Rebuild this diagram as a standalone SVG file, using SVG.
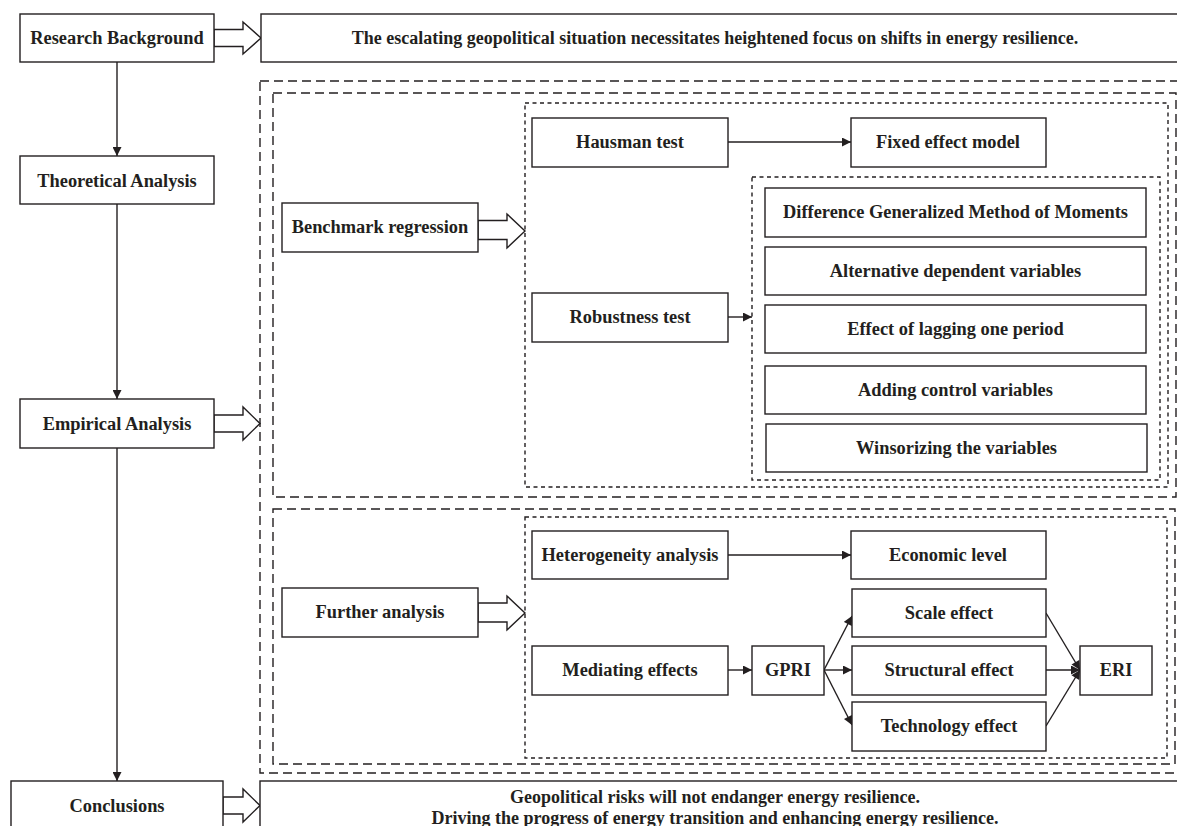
<svg xmlns="http://www.w3.org/2000/svg" width="1177" height="826" viewBox="0 0 1177 826">
<style>
.b{fill:#fff;stroke:#231f20;stroke-width:1.4}
.t{font-family:"Liberation Serif","Times New Roman",serif;font-weight:bold;font-size:18.4px;fill:#231f20;text-anchor:middle}
.w{font-size:18px}
.d1{fill:none;stroke:#231f20;stroke-width:1.4;stroke-dasharray:9 5}
.d2{fill:none;stroke:#231f20;stroke-width:1.4;stroke-dasharray:4 3.5}
.c{fill:none;stroke:#231f20;stroke-width:1.4}
.h{fill:#fff;stroke:#231f20;stroke-width:1.4;stroke-linejoin:miter}
</style>
<defs>
<marker id="ar" viewBox="0 0 10 10" refX="10" refY="5" markerWidth="10" markerHeight="9" markerUnits="userSpaceOnUse" orient="auto">
<path d="M0,0 L10,5 L0,10 z" fill="#231f20"/>
</marker>
</defs>
<rect width="1177" height="826" fill="#fff"/>

<g id="frames">
<rect class="d1" x="260" y="81" width="930" height="692"/>
<rect class="d1" x="273" y="93" width="903" height="404"/>
<rect class="d2" x="525" y="103" width="643" height="384"/>
<rect class="d2" x="752" y="177" width="408" height="303"/>
<rect class="d1" x="273" y="509" width="902" height="255"/>
<rect class="d2" x="525" y="517" width="642" height="241"/>
</g>

<g id="connectors">
<line class="c" x1="117" y1="62" x2="117" y2="156" marker-end="url(#ar)"/>
<line class="c" x1="117" y1="204" x2="117" y2="399" marker-end="url(#ar)"/>
<line class="c" x1="117" y1="448" x2="117" y2="781" marker-end="url(#ar)"/>
<line class="c" x1="728" y1="142" x2="851" y2="142" marker-end="url(#ar)"/>
<line class="c" x1="728" y1="317" x2="752" y2="317" marker-end="url(#ar)"/>
<line class="c" x1="728" y1="555" x2="851" y2="555" marker-end="url(#ar)"/>
<line class="c" x1="728" y1="670" x2="752" y2="670" marker-end="url(#ar)"/>
<line class="c" x1="824" y1="670" x2="852" y2="616" marker-end="url(#ar)"/>
<line class="c" x1="824" y1="670" x2="852" y2="670" marker-end="url(#ar)"/>
<line class="c" x1="824" y1="670" x2="852" y2="725" marker-end="url(#ar)"/>
<line class="c" x1="1046" y1="613" x2="1080" y2="670" marker-end="url(#ar)"/>
<line class="c" x1="1046" y1="670" x2="1080" y2="670" marker-end="url(#ar)"/>
<line class="c" x1="1046" y1="726" x2="1080" y2="670" marker-end="url(#ar)"/>
<polygon class="h" points="214,29.5 243,29.5 243,22 261,38 243,54 243,46.5 214,46.5"/>
<polygon class="h" points="214,415 243,415 243,407 260,423.5 243,440 243,432 214,432"/>
<polygon class="h" points="223,797 243,797 243,789 260,805.5 243,822 243,814 223,814"/>
<polygon class="h" points="478,220.5 507,220.5 507,214 525,231 507,248 507,239.5 478,239.5"/>
<polygon class="h" points="478,603 507,603 507,596 525,613 507,630 507,622 478,622"/>
</g>

<g id="research-background"><rect class="b" x="20" y="14" width="194" height="48"/><text class="t" x="117" y="44">Research Background</text></g>
<g id="background-text"><rect class="b" x="261" y="14" width="930" height="48"/><text class="t w" x="715" y="44">The escalating geopolitical situation necessitates heightened focus on shifts in energy resilience.</text></g>
<g id="theoretical-analysis"><rect class="b" x="20" y="156" width="194" height="48"/><text class="t" x="117" y="187">Theoretical Analysis</text></g>
<g id="empirical-analysis"><rect class="b" x="20" y="399" width="194" height="49"/><text class="t" x="117" y="430">Empirical Analysis</text></g>
<g id="conclusions"><rect class="b" x="11" y="781" width="212" height="60"/><text class="t" x="117" y="812">Conclusions</text></g>
<g id="conclusions-text"><rect class="b" x="260" y="781" width="930" height="60"/><text class="t w" x="715" y="803">Geopolitical risks will not endanger energy resilience.</text><text class="t w" x="715" y="824">Driving the progress of energy transition and enhancing energy resilience.</text></g>

<g id="benchmark-regression"><rect class="b" x="282" y="203" width="196" height="49"/><text class="t" x="380" y="233">Benchmark regression</text></g>
<g id="hausman-test"><rect class="b" x="532" y="118" width="196" height="49"/><text class="t" x="630" y="148">Hausman test</text></g>
<g id="fixed-effect-model"><rect class="b" x="851" y="118" width="195" height="49"/><text class="t" x="948" y="148">Fixed effect model</text></g>
<g id="robustness-test"><rect class="b" x="532" y="293" width="196" height="49"/><text class="t" x="630" y="323">Robustness test</text></g>
<g id="dgmm"><rect class="b" x="765" y="188" width="381" height="49"/><text class="t" x="955.5" y="218">Difference Generalized Method of Moments</text></g>
<g id="alternative-dependent"><rect class="b" x="765" y="247" width="381" height="48"/><text class="t" x="955.5" y="277">Alternative dependent variables</text></g>
<g id="lagging"><rect class="b" x="765" y="305" width="381" height="48"/><text class="t" x="955.5" y="335">Effect of lagging one period</text></g>
<g id="adding-control"><rect class="b" x="765" y="366" width="381" height="48"/><text class="t" x="955.5" y="396">Adding control variables</text></g>
<g id="winsorizing"><rect class="b" x="766" y="424" width="381" height="48"/><text class="t" x="956.5" y="454">Winsorizing the variables</text></g>

<g id="further-analysis"><rect class="b" x="282" y="588" width="196" height="49"/><text class="t" x="380" y="618">Further analysis</text></g>
<g id="heterogeneity-analysis"><rect class="b" x="532" y="531" width="196" height="48"/><text class="t" x="630" y="561">Heterogeneity analysis</text></g>
<g id="economic-level"><rect class="b" x="851" y="531" width="195" height="48"/><text class="t" x="948" y="561">Economic level</text></g>
<g id="mediating-effects"><rect class="b" x="532" y="646" width="196" height="49"/><text class="t" x="630" y="676">Mediating effects</text></g>
<g id="gpri"><rect class="b" x="752" y="646" width="72" height="49"/><text class="t" x="788" y="676">GPRI</text></g>
<g id="scale-effect"><rect class="b" x="852" y="589" width="194" height="48"/><text class="t" x="949" y="619">Scale effect</text></g>
<g id="structural-effect"><rect class="b" x="852" y="646" width="194" height="49"/><text class="t" x="949" y="676">Structural effect</text></g>
<g id="technology-effect"><rect class="b" x="852" y="702" width="194" height="49"/><text class="t" x="949" y="732">Technology effect</text></g>
<g id="eri"><rect class="b" x="1080" y="646" width="72" height="49"/><text class="t" x="1116" y="676">ERI</text></g>
</svg>
